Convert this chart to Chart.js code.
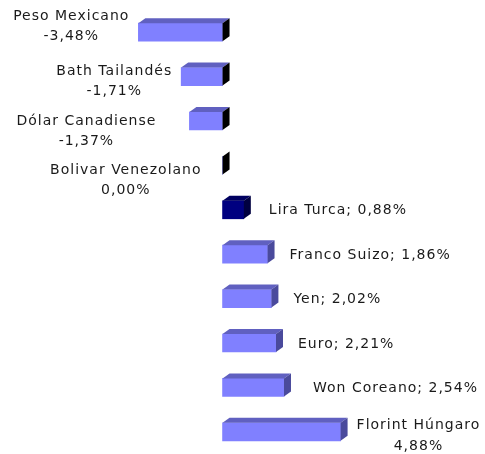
<!DOCTYPE html>
<html>
<head>
<meta charset="utf-8">
<script src="https://cdn.jsdelivr.net/npm/chart.js@4"></script>
<style>
  body { margin: 0; background: #fff; }
  #wrap { width: 485px; height: 454px; }
</style>
</head>
<body>
<div id="wrap"><canvas id="myChart"></canvas></div>
<script>
const currencies = [
  "Peso Mexicano", "Bath Tailandés", "Dólar Canadiense", "Bolivar Venezolano",
  "Lira Turca", "Franco Suizo", "Yen", "Euro", "Won Coreano", "Florint Húngaro",
];
const changes = [-3.48, -1.71, -1.37, 0.0, 0.88, 1.86, 2.02, 2.21, 2.54, 4.88];
const highlight = "Lira Turca";

const fmt = (v) => v.toFixed(2).replace(".", ",") + "%";
const DX = 7, DY = 5;
const FONT = "14px 'DejaVu Sans'";
// excel placed a few labels a bit off the usual spot
const nudge = {
  "Dólar Canadiense": [-24, 3],
  "Bolivar Venezolano": [-12, 0],
  "Lira Turca": [3, 0],
  "Won Coreano": [7, 0],
};

// fake excel-like 3d: top face + end face, then the data labels
const bars3d = {
  id: "bars3d",
  afterDatasetsDraw(chart) {
    const c = chart.ctx;
    chart.getDatasetMeta(0).data.forEach((bar, i) => {
      const left = Math.min(bar.x, bar.base);
      const right = Math.max(bar.x, bar.base);
      const top = bar.y - bar.height / 2;
      const bottom = bar.y + bar.height / 2;
      const navy = currencies[i] === highlight;
      c.save();
      c.fillStyle = navy ? "#000060" : "#6060c0";
      c.beginPath();
      c.moveTo(left, top);
      c.lineTo(left + DX, top - DY);
      c.lineTo(right + DX, top - DY);
      c.lineTo(right, top);
      c.closePath();
      c.fill();
      c.fillStyle = changes[i] <= 0 ? "#000" : navy ? "#000040" : "#4a4a9c";
      c.beginPath();
      c.moveTo(right, top);
      c.lineTo(right + DX, top - DY);
      c.lineTo(right + DX, bottom - DY);
      c.lineTo(right, bottom);
      c.closePath();
      c.fill();
      c.restore();
    });
  },
  afterDraw(chart) {
    const c = chart.ctx;
    c.save();
    c.font = FONT;
    c.letterSpacing = "1px";
    c.fillStyle = "#1a1a1a";
    c.textBaseline = "middle";
    chart.getDatasetMeta(0).data.forEach((bar, i) => {
      const name = currencies[i], val = fmt(changes[i]);
      const [nx, ny] = nudge[name] || [0, 0];
      const one = name + "; " + val;
      const w1 = c.measureText(one).width;
      const bw = Math.max(c.measureText(name).width, c.measureText(val).width);
      if (changes[i] > 0) {
        const x0 = bar.x + 22 + nx;
        if (x0 + w1 < chart.width) {
          c.textAlign = "left";
          c.fillText(one, x0, bar.y + 1 + ny);
        } else {
          c.textAlign = "center";
          c.fillText(name, x0 - 6 + bw / 2, bar.y - 6 + ny);
          c.fillText(val, x0 - 6 + bw / 2, bar.y + 15 + ny);
        }
      } else {
        const left = Math.min(bar.x, bar.base);
        const len = bar.base - left;
        const cy = bar.y + 15 - 0.245 * len + ny;
        const cx = left - 9 - bw / 2 + nx;
        c.textAlign = "center";
        c.fillText(name, cx, cy - 10);
        c.fillText(val, cx, cy + 10);
      }
    });
    c.restore();
  },
};

new Chart(document.getElementById("myChart"), {
  type: "bar",
  data: {
    labels: currencies,
    datasets: [{
      data: changes,
      backgroundColor: currencies.map((n) => (n === highlight ? "#000080" : "#8080ff")),
      barThickness: 18,
      borderWidth: 0,
    }],
  },
  options: {
    indexAxis: "y",
    responsive: true,
    maintainAspectRatio: false,
    animation: false,
    layout: { padding: { top: 10, bottom: 0, left: 0, right: 0 } },
    plugins: { legend: { display: false }, tooltip: { enabled: false } },
    scales: {
      x: { display: false, min: -9.2, max: 10.85 },
      y: { display: false },
    },
  },
  plugins: [bars3d],
});
</script>
</body>
</html>
